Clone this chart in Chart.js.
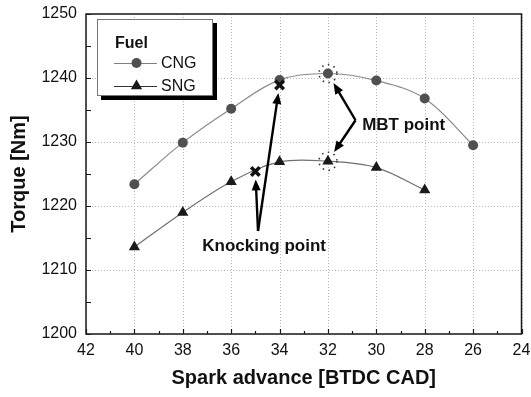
<!DOCTYPE html>
<html>
<head>
<meta charset="utf-8">
<script src="https://cdn.jsdelivr.net/npm/chart.js@4.4.1/dist/chart.umd.min.js"></script>
<style>
  html, body { margin: 0; padding: 0; background: #fff; }
  #wrap { width: 531px; height: 397px; }
</style>
</head>
<body>
<div id="wrap"><canvas id="torqueChart" width="531" height="397"></canvas></div>
<script>
// 1. Datos
const cngAdvance = [40, 38, 36, 34, 32, 30, 28, 26];
const cngTorque = [1223.4, 1229.9, 1235.2, 1239.7, 1240.7, 1239.6, 1236.8, 1229.5];
const sngAdvance = [40, 38, 36, 34, 32, 30, 28];
const sngTorque = [1213.6, 1219.0, 1223.8, 1226.9, 1227.0, 1226.0, 1222.5];
const knockAdvance = [34, 35];
const knockTorque = [1238.9, 1225.4];
const mbtAdvance = [32, 32];
const mbtTorque = [1240.7, 1227.0];
const xTicks = [42, 40, 38, 36, 34, 32, 30, 28, 26, 24];
const yTicks = [1200, 1210, 1220, 1230, 1240, 1250];

const FONT = "'Liberation Sans', Arial, sans-serif";
const toPoints = (xs, ys) => xs.map((x, i) => ({ x: x, y: ys[i] }));

// anclas de las anotaciones (en unidades de los ejes)
const knockNote = { text: 'Knocking point', x: 34.64, y: 1213.75, from: { x: 34.89, y: 1216.1 }, gap: 8 };
const mbtNote = { text: 'MBT point', x: 28.87, y: 1232.66, from: { x: 30.86, y: 1233.4 }, gap: 11 };

// 2. Funciones de dibujo
function drawArrow(ctx, x1, y1, x2, y2, gap) {
  const dx = x2 - x1, dy = y2 - y1;
  const len = Math.hypot(dx, dy);
  const ux = dx / len, uy = dy / len;
  const tx = x2 - ux * gap, ty = y2 - uy * gap;
  const head = 11, half = 4.5;
  ctx.save();
  ctx.strokeStyle = '#000';
  ctx.fillStyle = '#000';
  ctx.lineWidth = 2.4;
  ctx.beginPath();
  ctx.moveTo(x1, y1);
  ctx.lineTo(tx - ux * head * 0.8, ty - uy * head * 0.8);
  ctx.stroke();
  ctx.beginPath();
  ctx.moveTo(tx, ty);
  ctx.lineTo(tx - ux * head - uy * half, ty - uy * head + ux * half);
  ctx.lineTo(tx - ux * head + uy * half, ty - uy * head - ux * half);
  ctx.closePath();
  ctx.fill();
  ctx.restore();
}

function drawLegend(ctx) {
  const box = { x: 97, y: 19, w: 116, h: 77 };
  ctx.save();
  ctx.fillStyle = '#000';
  ctx.fillRect(box.x + 4, box.y + 4, box.w, box.h);
  ctx.fillStyle = '#fff';
  ctx.fillRect(box.x, box.y, box.w, box.h);
  ctx.strokeStyle = '#777';
  ctx.lineWidth = 1;
  ctx.strokeRect(box.x + 0.5, box.y + 0.5, box.w - 1, box.h - 1);

  ctx.fillStyle = '#111';
  ctx.font = 'bold 16px ' + FONT;
  ctx.textBaseline = 'alphabetic';
  ctx.fillText('Fuel', 115, 48);

  const rows = [
    { label: 'CNG', y: 63, style: 'circle', color: '#505050' },
    { label: 'SNG', y: 86, style: 'triangle', color: '#1a1a1a' }
  ];
  rows.forEach(r => {
    ctx.strokeStyle = r.style === 'circle' ? '#808080' : '#333';
    ctx.lineWidth = 1;
    ctx.beginPath();
    ctx.moveTo(114, r.y + 0.5);
    ctx.lineTo(157, r.y + 0.5);
    ctx.stroke();
    ctx.fillStyle = r.color;
    ctx.beginPath();
    if (r.style === 'circle') {
      ctx.arc(136.5, r.y, 5, 0, Math.PI * 2);
    } else {
      const rad = 6.5;
      ctx.moveTo(136.5, r.y - rad);
      ctx.lineTo(136.5 + rad * 0.866, r.y + rad * 0.5);
      ctx.lineTo(136.5 - rad * 0.866, r.y + rad * 0.5);
      ctx.closePath();
    }
    ctx.fill();
    ctx.fillStyle = '#111';
    ctx.font = '16px ' + FONT;
    ctx.textBaseline = 'middle';
    ctx.fillText(r.label, 161, r.y + 1);
  });
  ctx.restore();
}

// rejilla punteada en las marcas principales
const dottedGrid = {
  id: 'dottedGrid',
  beforeDatasetsDraw(chart) {
    const ctx = chart.ctx;
    const { left, right, top, bottom } = chart.chartArea;
    const xs = chart.scales.x, ys = chart.scales.y;
    ctx.save();
    ctx.strokeStyle = '#b8b8b8';
    ctx.lineWidth = 1;
    ctx.setLineDash([1, 2]);
    ctx.beginPath();
    xs.ticks.forEach(t => {
      const px = Math.round(xs.getPixelForValue(t.value)) + 0.5;
      ctx.moveTo(px, top);
      ctx.lineTo(px, bottom);
    });
    ys.ticks.forEach(t => {
      const py = Math.round(ys.getPixelForValue(t.value)) + 0.5;
      ctx.moveTo(left, py);
      ctx.lineTo(right, py);
    });
    ctx.stroke();
    ctx.restore();
  }
};

const frameAndNotes = {
  id: 'frameAndNotes',
  afterDraw(chart) {
    const ctx = chart.ctx;
    const { left, right, top, bottom } = chart.chartArea;
    const xs = chart.scales.x, ys = chart.scales.y;

    // marco y marcas hacia adentro
    ctx.save();
    ctx.strokeStyle = '#1a1a1a';
    ctx.lineWidth = 1.5;
    ctx.strokeRect(left, top, right - left, bottom - top);
    ctx.lineWidth = 1.2;
    ctx.beginPath();
    for (let v = 24; v <= 42; v++) {
      const px = Math.round(xs.getPixelForValue(v)) + 0.5;
      const len = v % 2 === 0 ? 5 : 3;
      ctx.moveTo(px, bottom);
      ctx.lineTo(px, bottom - len);
    }
    for (let v = 1200; v <= 1250; v += 5) {
      const py = Math.round(ys.getPixelForValue(v)) + 0.5;
      ctx.moveTo(left, py);
      ctx.lineTo(left + 5, py);
    }
    ctx.stroke();
    ctx.restore();

    // circulos punteados en los puntos MBT
    ctx.save();
    ctx.strokeStyle = '#333';
    ctx.lineWidth = 1.6;
    ctx.setLineDash([1.5, 4.5]);
    mbtAdvance.forEach((a, i) => {
      ctx.beginPath();
      ctx.arc(xs.getPixelForValue(a), ys.getPixelForValue(mbtTorque[i]), 9, 0, Math.PI * 2);
      ctx.stroke();
    });
    ctx.restore();

    // flechas y textos
    const kx = xs.getPixelForValue(knockNote.from.x), ky = ys.getPixelForValue(knockNote.from.y);
    knockAdvance.forEach((a, i) => {
      drawArrow(ctx, kx, ky, xs.getPixelForValue(a), ys.getPixelForValue(knockTorque[i]), knockNote.gap);
    });
    const mx = xs.getPixelForValue(mbtNote.from.x), my = ys.getPixelForValue(mbtNote.from.y);
    mbtAdvance.forEach((a, i) => {
      drawArrow(ctx, mx, my, xs.getPixelForValue(a), ys.getPixelForValue(mbtTorque[i]), mbtNote.gap);
    });

    ctx.save();
    ctx.fillStyle = '#111';
    ctx.font = 'bold 17px ' + FONT;
    ctx.textAlign = 'center';
    ctx.textBaseline = 'middle';
    [knockNote, mbtNote].forEach(n => {
      ctx.fillText(n.text, xs.getPixelForValue(n.x), ys.getPixelForValue(n.y));
    });
    ctx.restore();

    drawLegend(ctx);
  }
};

// 3. Grafico
new Chart(document.getElementById('torqueChart'), {
  type: 'scatter',
  data: {
    datasets: [
      {
        label: 'Knocking',
        data: toPoints(knockAdvance, knockTorque),
        showLine: false,
        pointStyle: 'crossRot',
        pointRadius: 6,
        borderWidth: 3.5,
        borderColor: '#111',
        order: 0
      },
      {
        label: 'CNG',
        data: toPoints(cngAdvance, cngTorque),
        showLine: true,
        tension: 0.35,
        borderColor: '#8a8a8a',
        borderWidth: 1.2,
        pointRadius: 5,
        pointBackgroundColor: '#505050',
        pointBorderColor: '#505050',
        pointBorderWidth: 0,
        order: 1
      },
      {
        label: 'SNG',
        data: toPoints(sngAdvance, sngTorque),
        showLine: true,
        tension: 0.35,
        borderColor: '#707070',
        borderWidth: 1.2,
        pointStyle: 'triangle',
        pointRadius: 6.5,
        pointBackgroundColor: '#1a1a1a',
        pointBorderColor: '#1a1a1a',
        pointBorderWidth: 0,
        order: 2
      }
    ]
  },
  options: {
    responsive: false,
    devicePixelRatio: 1,
    animation: false,
    layout: { padding: { top: 14, right: 7, bottom: 0, left: 0 } },
    plugins: { legend: { display: false }, tooltip: { enabled: false } },
    scales: {
      x: {
        type: 'linear',
        reverse: true,
        min: 24,
        max: 42,
        afterBuildTicks: s => { s.ticks = xTicks.map(v => ({ value: v })); },
        afterFit: s => { s.height = 63; s.paddingLeft = 0; s.paddingRight = 0; },
        grid: { display: false, drawTicks: false },
        border: { display: false },
        ticks: { color: '#111', font: { family: FONT, size: 16 }, padding: 7, maxRotation: 0, autoSkip: false, callback: v => String(v) },
        title: {
          display: true,
          text: 'Spark advance [BTDC CAD]',
          color: '#111',
          font: { family: FONT, size: 20, weight: 'bold' },
          padding: { top: 0, bottom: 7 }
        }
      },
      y: {
        min: 1200,
        max: 1250,
        afterBuildTicks: s => { s.ticks = yTicks.map(v => ({ value: v })); },
        afterFit: s => { s.width = 86; s.paddingTop = 0; s.paddingBottom = 0; },
        grid: { display: false, drawTicks: false },
        border: { display: false },
        ticks: { color: '#111', font: { family: FONT, size: 16 }, padding: 9, callback: v => String(v) },
        title: {
          display: true,
          text: 'Torque [Nm]',
          color: '#111',
          font: { family: FONT, size: 20, weight: 'bold' },
          padding: { top: 7, bottom: 0 }
        }
      }
    }
  },
  plugins: [dottedGrid, frameAndNotes]
});
</script>
</body>
</html>
